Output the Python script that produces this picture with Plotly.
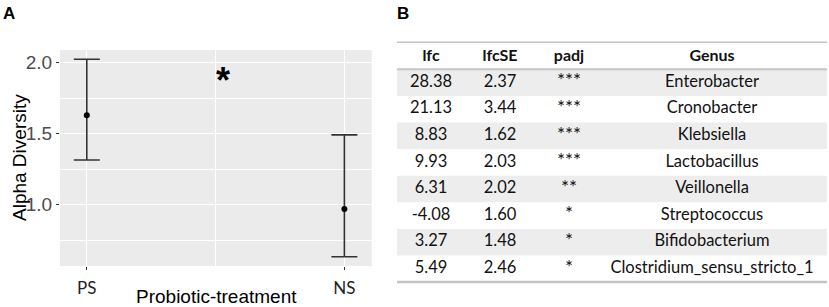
import plotly.graph_objects as go

# ---------------- data ----------------
groups = ["PS", "NS"]
alpha_mean = [1.628, 0.968]
alpha_upper = [2.023, 1.490]
alpha_lower = [1.313, 0.632]
y_ticks = [1.0, 1.5, 2.0]
y_minor = [0.75, 1.25, 1.75]

table_header = ["lfc", "lfcSE", "padj", "Genus"]
lfc = ["28.38", "21.13", "8.83", "9.93", "6.31", "-4.08", "3.27", "5.49"]
lfc_se = ["2.37", "3.44", "1.62", "2.03", "2.02", "1.60", "1.48", "2.46"]
padj = ["***", "***", "***", "***", "**", "*", "*", "*"]
genus = ["Enterobacter", "Cronobacter", "Klebsiella", "Lactobacillus",
         "Veillonella", "Streptococcus", "Bifidobacterium",
         "Clostridium_sensu_stricto_1"]

# ---------------- layout constants ----------------
W, H = 829, 307
PX0, PX1, PY0, PY1 = 60, 371.7, 50, 266  # panel A plot area (px)
xpos = list(range(len(groups)))

def px_x(v):
    return v / W

def px_y(v):
    return 1 - v / H

AXFONT = "Liberation Sans, Arial, sans-serif"
TFONT = "Lato, Open Sans, sans-serif"

fig = go.Figure()

# panel A: mean with error bars
fig.add_trace(go.Scatter(
    x=xpos, y=alpha_mean, mode="markers",
    marker=dict(color="black", size=6),
    error_y=dict(type="data", symmetric=False,
                 array=[u - m for u, m in zip(alpha_upper, alpha_mean)],
                 arrayminus=[m - l for m, l in zip(alpha_mean, alpha_lower)],
                 color="#333333", thickness=1.6, width=13),
    xaxis="x", yaxis="y", showlegend=False, hoverinfo="skip"))

# panel B: table
col_x = [431, 500, 569, 712]
table_left, table_right = 397, 827
top_line, header_line = 42.3, 69.3
row_h = 26.6
n = len(genus)
row_c = [header_line + row_h / 2 + i * row_h for i in range(n)]
bottom_line = header_line + n * row_h
header_c = (top_line + header_line) / 2 + 1

fig.add_trace(go.Scatter(
    x=col_x, y=[header_c] * 4, mode="text",
    text=["<b>%s</b>" % h for h in table_header],
    textfont=dict(family=TFONT, size=16, color="#111111"),
    xaxis="x2", yaxis="y2", showlegend=False, hoverinfo="skip"))
for cx, col in zip(col_x, [lfc, lfc_se, padj, genus]):
    size = 19 if col is padj else 16.5
    fig.add_trace(go.Scatter(
        x=[cx] * n, y=row_c, mode="text", text=col,
        textfont=dict(family=TFONT, size=size, color="#111111"),
        xaxis="x2", yaxis="y2", showlegend=False, hoverinfo="skip"))

shapes = [
    dict(type="rect", xref="x domain", yref="y domain", x0=0, x1=1, y0=0, y1=1,
         fillcolor="#EBEBEB", line=dict(width=0), layer="below"),
]
for i in range(0, n, 2):
    shapes.append(dict(type="rect", xref="x2", yref="y2",
                       x0=table_left, x1=table_right,
                       y0=header_line + i * row_h, y1=header_line + (i + 1) * row_h,
                       fillcolor="#EDEDED", line=dict(width=0), layer="below"))
for yl, wd in [(top_line, 1.5), (header_line, 2), (bottom_line, 2.5)]:
    shapes.append(dict(type="line", xref="x2", yref="y2",
                       x0=table_left, x1=table_right, y0=yl, y1=yl,
                       line=dict(color="#C4C4C4", width=wd)))

def ann(text, x, y, size, xref="paper", yref="paper", angle=0, color="black"):
    return dict(text=text, x=x, y=y, xref=xref, yref=yref, textangle=angle,
                xanchor="center", yanchor="middle", showarrow=False,
                font=dict(family=AXFONT, size=size, color=color))

annotations = [
    ann("<b>A</b>", px_x(9), px_y(13.5), 17),
    ann("<b>B</b>", px_x(403), px_y(13.5), 17),
    ann("Alpha Diversity", px_x(19), px_y(158), 19, angle=-90),
    ann("Probiotic-treatment", px_x(216), px_y(296), 19),
    ann("<b>*</b>", 0.528, 1.872, 36, xref="x", yref="y"),
]

fig.update_layout(
    width=W, height=H, margin=dict(l=0, r=0, t=0, b=0),
    paper_bgcolor="white", plot_bgcolor="rgba(0,0,0,0)",
    shapes=shapes, annotations=annotations,
    xaxis=dict(domain=[px_x(PX0), px_x(PX1)], range=[-0.104, 1.106],
               tickvals=xpos, ticktext=groups, showgrid=True,
               gridcolor="white", gridwidth=1.2, zeroline=False,
               ticks="outside", ticklen=3, tickcolor="#333333", tickwidth=1,
               ticklabelstandoff=4,
               tickfont=dict(family=TFONT, size=17, color="#222222"),
               minor=dict(tickvals=[0.5], showgrid=True, gridcolor="white",
                          gridwidth=0.6, ticks=""),
               showline=False, fixedrange=True),
    yaxis=dict(domain=[px_y(PY1), px_y(PY0)], range=[0.567, 2.088],
               tickvals=y_ticks, tickformat=".1f", showgrid=True,
               gridcolor="white", gridwidth=1.2, zeroline=False,
               ticks="outside", ticklen=3, tickcolor="#333333", tickwidth=1,
               tickfont=dict(family=AXFONT, size=19, color="#4D4D4D"),
               minor=dict(tickvals=y_minor, showgrid=True, gridcolor="white",
                          gridwidth=0.6, ticks=""),
               showline=False, fixedrange=True),
    xaxis2=dict(domain=[0, 1], range=[0, W], visible=False, fixedrange=True),
    yaxis2=dict(domain=[0, 1], range=[H, 0], visible=False, fixedrange=True),
)

fig.write_html("out.html", config={"displayModeBar": False},
               post_script="document.body.style.margin='0';"
                           "document.body.style.overflow='hidden';")
